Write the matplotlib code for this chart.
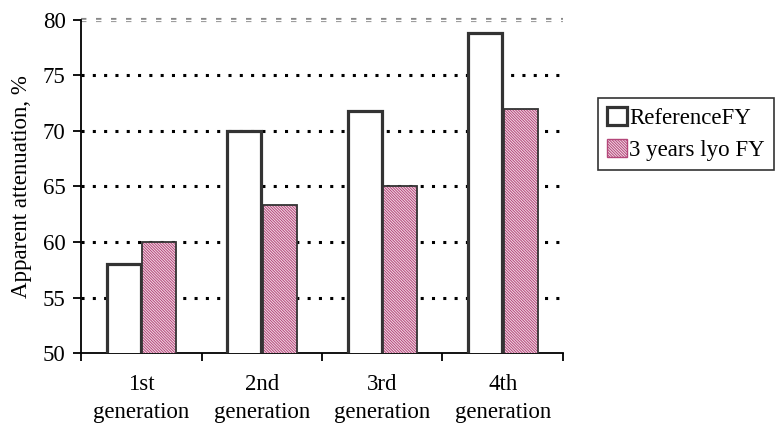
import numpy as np
import matplotlib.pyplot as plt
from matplotlib.patches import Patch

plt.rcParams['font.family'] = ['Liberation Serif', 'DejaVu Serif']
plt.rcParams['hatch.linewidth'] = 0.7

# Data
categories = ["1st\ngeneration", "2nd\ngeneration", "3rd\ngeneration", "4th\ngeneration"]
reference_fy = [58.0, 70.0, 71.8, 78.8]
lyo_fy = [60.0, 63.3, 65.0, 72.0]
series_names = ["ReferenceFY", "3 years lyo FY"]

fs = 16.5
fig = plt.figure(figsize=(7.76, 4.25), dpi=100)
ax = fig.add_axes([0.1044, 0.1694, 0.6211, 0.7836])

x = np.arange(len(categories))
w = 0.28
edge = '#333333'
hatch = '\\' * 12

# white bars with thick dark outline
ax.bar(x - 0.145, reference_fy, w, bottom=0, color='white', edgecolor=edge,
       linewidth=2.3, zorder=3)

# hatched pink bars: hatch layer, then outline
ax.bar(x + 0.15, lyo_fy, w, color='#f3dbe6', edgecolor='#b4477a',
       hatch=hatch, linewidth=0, zorder=3)
ax.bar(x + 0.15, lyo_fy, w, color='none', edgecolor=edge, linewidth=1.3, zorder=4)

ax.set_xlim(-0.5, 3.5)
ax.set_ylim(50, 80)
ax.set_yticks([50, 55, 60, 65, 70, 75, 80])

# dotted gridlines
for yv in [55, 60, 65, 70, 75]:
    ax.axhline(yv, color='black', linewidth=2.2, linestyle=(0, (1, 2.7)),
               dash_capstyle='butt', zorder=1)
# double gray dashed line at the top
ax.axhline(80, color='#888888', linewidth=3.0, linestyle=(0, (1.3, 2.3)),
           dash_capstyle='butt', zorder=1, clip_on=False)
ax.axhline(80, color='white', linewidth=1.0, zorder=2, clip_on=False)

for s in ['top', 'right']:
    ax.spines[s].set_visible(False)
ax.spines['left'].set_linewidth(1.3)
ax.spines['bottom'].set_linewidth(1.3)

ax.set_xticks(np.arange(-0.5, 4.0, 1.0))
ax.set_xticklabels([])
ax.set_xticks(x, minor=True)
ax.set_xticklabels(categories, minor=True, fontsize=fs, linespacing=1.42)
ax.tick_params(axis='x', which='major', length=6, width=1.3, direction='out')
ax.tick_params(axis='x', which='minor', length=0, pad=15)
ax.tick_params(axis='y', length=6, width=1.3, labelsize=fs, pad=5)

ax.set_ylabel("Apparent attenuation, %", fontsize=fs, labelpad=8)

handles = [
    Patch(facecolor='white', edgecolor=edge, linewidth=2.3),
    Patch(facecolor='#f3dbe6', edgecolor='#b4477a', hatch=hatch, linewidth=1.0),
]
leg = fig.legend(handles, series_names, loc='upper left',
                 bbox_to_anchor=(598 / 776, 1 - 98 / 425), fontsize=fs,
                 frameon=True, fancybox=False, handlelength=0.85, handleheight=0.8,
                 handletextpad=0.12, borderpad=0.4, labelspacing=0.45,
                 borderaxespad=0)
leg.get_frame().set_edgecolor('black')
leg.get_frame().set_linewidth(1.2)

fig.savefig("out.png", dpi=100)
